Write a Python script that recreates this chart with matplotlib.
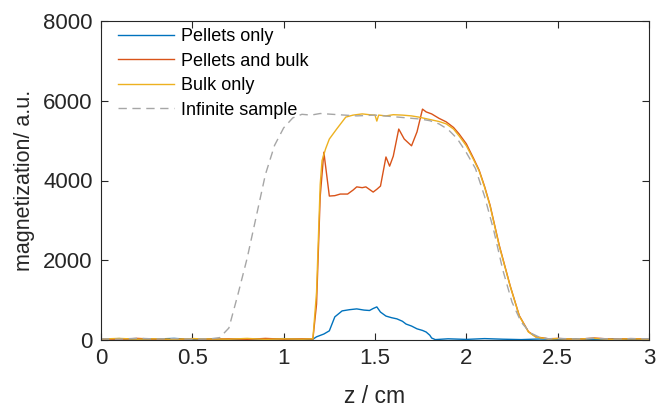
import matplotlib
matplotlib.use('Agg')
import matplotlib.pyplot as plt

plt.rcParams['font.family'] = ['Liberation Sans', 'DejaVu Sans']

# pellets only
z_pellets = [0.0, 0.1, 0.2, 0.3, 0.4, 0.5, 0.6, 0.7, 0.8, 0.9, 1.0, 1.1, 1.16, 1.18, 1.22, 1.25, 1.28,
             1.32, 1.36, 1.40, 1.44, 1.47, 1.49, 1.51, 1.53, 1.56, 1.59, 1.62, 1.65, 1.67, 1.70, 1.73,
             1.76, 1.78, 1.80, 1.81, 1.83, 1.9, 2.0, 2.1, 2.2, 2.3, 2.4, 2.5, 2.6, 2.7, 2.8, 2.9, 3.0]
m_pellets = [20, 35, 10, 25, 40, 15, 30, 10, 25, 20, 35, 15, 20, 80, 150, 230, 580,
             730, 760, 780, 750, 740, 790, 830, 700, 600, 560, 530, 470, 400, 350, 280,
             240, 200, 120, 50, 10, 30, 15, 35, 20, 10, 25, 15, 30, 10, 25, 15, 20]

# pellets and bulk
z_mixed = [0.0, 0.1, 0.2, 0.3, 0.4, 0.5, 0.6, 0.7, 0.8, 0.9, 1.0, 1.1, 1.16, 1.18, 1.20, 1.22,
           1.25, 1.28, 1.31, 1.35, 1.38, 1.40, 1.43, 1.45, 1.49, 1.51, 1.53, 1.56, 1.58, 1.60,
           1.63, 1.66, 1.70, 1.73, 1.76, 1.78, 1.81, 1.85, 1.89, 1.93, 1.96, 2.0, 2.04, 2.07,
           2.10, 2.13, 2.18, 2.24, 2.29, 2.34, 2.38, 2.45, 2.5, 2.6, 2.7, 2.8, 2.9, 3.0]
m_mixed = [30, 15, 40, 20, 10, 35, 20, 30, 15, 40, 20, 30, 25, 900, 3600, 4710,
           3610, 3620, 3660, 3660, 3760, 3840, 3820, 3840, 3710, 3780, 3860, 4590, 4360, 4610,
           5290, 5040, 4870, 5220, 5790, 5720, 5670, 5560, 5470, 5330, 5170, 4920, 4550, 4260,
           3850, 3380, 2380, 1360, 610, 210, 80, 30, 40, 15, 50, 20, 35, 25]

# bulk only
z_bulk = [0.0, 0.1, 0.2, 0.3, 0.4, 0.5, 0.6, 0.7, 0.8, 0.9, 1.0, 1.1, 1.16, 1.18, 1.20, 1.21,
          1.23, 1.25, 1.29, 1.34, 1.38, 1.43, 1.47, 1.50, 1.51, 1.52, 1.56, 1.60, 1.65, 1.70,
          1.74, 1.80, 1.85, 1.89, 1.93, 1.96, 2.0, 2.04, 2.07, 2.10, 2.13, 2.18, 2.24, 2.29,
          2.34, 2.38, 2.45, 2.5, 2.6, 2.7, 2.8, 2.9, 3.0]
m_bulk = [25, 40, 20, 30, 15, 35, 25, 20, 40, 15, 30, 20, 30, 1200, 3900, 4500,
          4800, 5040, 5290, 5590, 5640, 5670, 5650, 5640, 5490, 5640, 5620, 5650, 5640, 5620,
          5590, 5530, 5480, 5420, 5290, 5120, 4870, 4520, 4240, 3830, 3360, 2360, 1350, 600,
          200, 75, 25, 35, 20, 40, 15, 30, 20]

# infinite sample
z_inf = [0.0, 0.1, 0.2, 0.3, 0.4, 0.5, 0.6, 0.65, 0.7, 0.75, 0.8, 0.85, 0.9, 0.95, 1.0, 1.05,
         1.1, 1.15, 1.2, 1.3, 1.4, 1.5, 1.6, 1.7, 1.75, 1.8, 1.85, 1.9, 1.95, 2.0, 2.05, 2.1,
         2.15, 2.2, 2.25, 2.3, 2.35, 2.4, 2.45, 2.5, 2.6, 2.7, 2.8, 2.9, 3.0]
m_inf = [30, 20, 45, 25, 35, 20, 30, 60, 300, 1150, 2050, 3100, 4150, 4880, 5320, 5570,
         5660, 5640, 5680, 5650, 5620, 5640, 5600, 5560, 5540, 5500, 5420, 5280, 5050, 4700, 4300, 3600,
         2750, 1750, 950, 450, 180, 70, 30, 40, 25, 45, 20, 35, 30]


def make_graph():
    fig = plt.figure(figsize=(6.59, 4.07), dpi=100)
    ax = fig.add_axes([101 / 659, 1 - 340 / 407, 548 / 659, 319 / 407])
    ax.plot(z_pellets, m_pellets, color='#0072BD', lw=1.0, label='Pellets only')
    ax.plot(z_mixed, m_mixed, color='#D95319', lw=1.0, label='Pellets and bulk')
    ax.plot(z_bulk, m_bulk, color='#EDB120', lw=1.0, label='Bulk only')
    ax.plot(z_inf, m_inf, color='#a6a6a6', lw=1.0, ls=(0, (6, 4)), label='Infinite sample')
    ax.set_xlim(0, 3)
    ax.set_ylim(0, 8000)
    ax.set_xticks([0, 0.5, 1, 1.5, 2, 2.5, 3], ['0', '0.5', '1', '1.5', '2', '2.5', '3'])
    ax.set_yticks([0, 2000, 4000, 6000, 8000])
    ax.tick_params(direction='in', length=5, width=0.8, labelsize=16, colors='#262626',
                   top=True, right=True, pad=6)
    for s in ax.spines.values():
        s.set_color('#262626')
        s.set_linewidth(0.8)
    ax.set_xlabel('z / cm', fontsize=16.5, color='#262626', labelpad=11)
    ax.set_ylabel('magnetization/ a.u.', fontsize=15.5, color='#262626', labelpad=6)
    ax.legend(loc='upper left', frameon=False, fontsize=13, handlelength=3.1, handletextpad=0.4,
              labelspacing=0.42, borderpad=0, borderaxespad=0, bbox_to_anchor=(0.031, 0.978))
    plt.savefig('out.png', dpi=100)


make_graph()
